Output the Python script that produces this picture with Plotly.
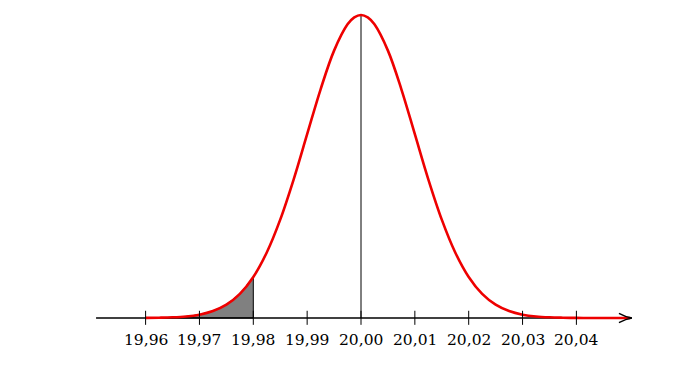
import plotly.graph_objects as go

# curve values (density, arbitrary units; peak ~39.9 at 20.00)
x_vals = [19.96, 19.9625, 19.965, 19.9675, 19.97, 19.9725, 19.975, 19.9775, 19.98,
          19.9825, 19.985, 19.9875, 19.99, 19.9925, 19.995, 19.9975, 19.99875, 20.0,
          20.00125, 20.0025, 20.005, 20.0075, 20.01, 20.0125, 20.015, 20.0175, 20.02,
          20.0225, 20.025, 20.0275, 20.03, 20.0325, 20.035, 20.0375, 20.04,
          20.0425, 20.045, 20.0475, 20.05]
y_vals = [0.01, 0.04, 0.09, 0.20, 0.44, 0.91, 1.75, 3.17, 5.40,
          8.63, 12.95, 18.26, 24.20, 30.11, 35.20, 38.66, 39.58, 39.89,
          39.58, 38.66, 35.20, 30.11, 24.20, 18.26, 12.95, 8.63, 5.40,
          3.17, 1.75, 0.91, 0.44, 0.20, 0.09, 0.04, 0.01,
          0.005, 0.002, 0.0005, 0.0001]
tick_vals = [19.96, 19.97, 19.98, 19.99, 20.00, 20.01, 20.02, 20.03, 20.04]
tick_text = ["19,96", "19,97", "19,98", "19,99", "20,00", "20,01", "20,02", "20,03", "20,04"]
shade_from, shade_to = 19.96, 19.98
mean_val = 20.00

fig = go.Figure()

# shaded area
sx = [x for x in x_vals if shade_from <= x <= shade_to + 1e-9]
sy = [y for x, y in zip(x_vals, y_vals) if shade_from <= x <= shade_to + 1e-9]
fig.add_trace(go.Scatter(x=sx + [shade_to, shade_from], y=sy + [0, 0], fill="toself",
                         fillcolor="#808080", mode="lines",
                         line=dict(color="black", width=1), hoverinfo="skip"))

# axis line
fig.add_trace(go.Scatter(x=[19.9508, 20.0503], y=[0, 0], mode="lines",
                         line=dict(color="black", width=1.6), hoverinfo="skip"))

# vertical line at the mean
peak = max(y_vals)
fig.add_trace(go.Scatter(x=[mean_val, mean_val], y=[0, peak], mode="lines",
                         line=dict(color="black", width=1), hoverinfo="skip"))

# ticks
for t in tick_vals:
    fig.add_shape(type="line", x0=t, x1=t, y0=-0.9, y1=0.95, xref="x", yref="y",
                  line=dict(color="black", width=1))

# arrow head
fig.add_shape(type="path", xref="x", yref="y",
              path="M 20.0479,0.62 Q 20.0492,0.12 20.0503,0 Q 20.0492,-0.12 20.0479,-0.62",
              line=dict(color="black", width=1.4))

# red curve
fig.add_trace(go.Scatter(x=x_vals, y=y_vals, mode="lines", line_shape="spline",
                         line=dict(color="#ee0000", width=2.6), hoverinfo="skip"))

for t, lab in zip(tick_vals, tick_text):
    fig.add_annotation(x=t, y=-2.95, xref="x", yref="y", text=lab, showarrow=False,
                       font=dict(family="DejaVu Serif", size=15.5, color="black"))

fig.update_layout(
    width=691, height=373, margin=dict(l=0, r=0, t=0, b=0),
    paper_bgcolor="white", plot_bgcolor="white", showlegend=False,
    xaxis=dict(range=[19.934447, 20.062767], visible=False, fixedrange=True),
    yaxis=dict(range=[-8.294, 40.811], visible=False, fixedrange=True),
)
fig.write_html("out.html")
